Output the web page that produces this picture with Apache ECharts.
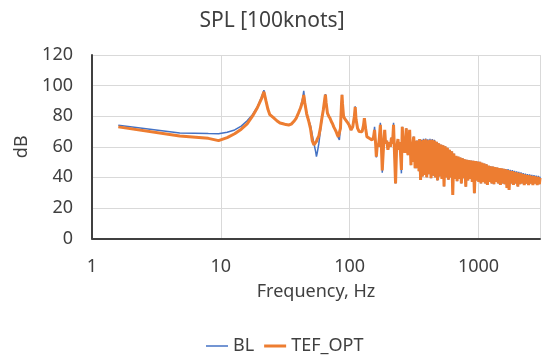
<!DOCTYPE html>
<html><head><meta charset="utf-8">
<script src="https://cdn.jsdelivr.net/npm/echarts@6/dist/echarts.min.js"></script>
<style>html,body{margin:0;padding:0;background:#fff}#c{width:544px;height:355px}</style>
</head><body><div id="c"></div>
<script>
// Frequency (Hz)
const freq = [
  1.6, 4.8, 8.0, 9.6, 11.2, 12.8, 14.4, 16.0, 17.6, 19.2, 20.8, 21.6, 22.4, 23.2, 24.0, 25.6, 27.2, 28.8, 30.4, 32.0,
  33.6, 35.2, 36.8, 38.4, 40.0, 41.6, 43.2, 44.0, 44.8, 46.4, 48.0, 49.6, 51.2, 52.8, 54.4, 55.2, 56.0, 57.6, 59.2, 60.8,
  62.4, 64.0, 64.8, 65.6, 67.2, 68.8, 70.4, 72.0, 73.6, 75.2, 76.8, 78.4, 80.0, 81.6, 83.2, 84.8, 86.4, 87.2, 88.0, 89.6,
  91.2, 92.8, 96.0, 99.2, 102.4, 105.6, 108.8, 110.4, 112.0, 115.2, 118.4, 121.6, 124.8, 128.0, 130.0, 133.0, 136.0, 142.0, 149.0, 153.0,
  156, 159, 161, 164, 167, 170, 173, 176, 179, 183, 187, 190, 194, 198, 203, 207, 211, 215, 219, 223,
  227, 231, 234, 237, 241, 244, 248, 252, 256, 260, 264, 268, 272, 275, 279, 284, 288, 292, 296, 299,
  302, 306, 310, 314, 318, 322, 326, 329, 333, 337, 341, 345, 349, 355,
  360, 367, 374, 381, 389, 396, 404, 412, 420, 428, 437, 445, 454, 463, 472, 481, 490, 500, 510, 520,
  530, 540, 551, 562, 573, 584, 595, 607, 619, 631, 643, 656, 669, 682, 695, 709, 722, 736, 751, 766,
  781, 796, 811, 827, 843, 860, 877, 894, 911, 929, 947, 966, 985, 1004, 1024, 1044, 1064, 1085, 1106, 1128,
  1150, 1172, 1195, 1219, 1242, 1267, 1291, 1317, 1342, 1369, 1395, 1423, 1451, 1479, 1508, 1537, 1567, 1598, 1629, 1661,
  1694, 1727, 1760, 1795, 1830, 1866, 1902, 1939, 1977, 2016, 2055, 2095, 2136, 2178, 2220, 2264, 2308, 2353, 2399, 2446,
  2493, 2542, 2592, 2642, 2694, 2747, 2800, 2855, 2911, 2968, 3000
];
// BL (dB)
const bl = [
  74, 69, 68.6, 68.5, 69.5, 71, 73.5, 77, 81, 86, 93, 97, 90, 84.5, 81, 79, 77, 75.5, 75, 74.5,
  74.2, 74.8, 76.5, 78.6, 82, 86, 92, 96.5, 90, 80, 77.5, 74, 68, 62, 57, 53.5, 56, 62, 70, 78,
  84, 91, 94.5, 89, 82, 80, 78.6, 76.5, 75, 73, 71.5, 70, 68, 66, 64.4, 72, 88, 94, 88, 80,
  78.6, 78, 76, 74, 71, 73, 80, 86.5, 78, 72, 70, 69.5, 69.8, 74, 78.6, 72, 66.6, 65.5, 64.4, 66,
  73, 62, 53, 62, 60, 66, 75.7, 62, 43, 60, 71, 62, 64, 58, 63, 60, 66, 62, 75.7, 55,
  36, 58, 62, 65, 58, 63, 56, 42.6, 73, 60, 64, 56, 66, 72, 58, 54.6, 62, 71, 58, 48,
  60, 50, 62, 66.6, 58, 46, 62, 46, 64, 58, 62, 44, 65, 38.3,
  64.5, 40.5, 65.2, 41.5, 65.4, 40, 64.9, 42, 65.2, 39.4, 65.1, 41, 64.6, 40, 63.2, 38, 62.3, 40.5, 61.5, 39,
  61, 34, 60.3, 40, 59.3, 38.5, 58, 40, 57, 28.5, 55.5, 39, 54, 37.5, 53.5, 39, 53, 36, 52.4, 39.5,
  51.8, 33.9, 51.5, 38, 51.2, 39, 51, 37, 50.8, 29.6, 50.6, 38, 50.3, 37, 50.2, 36, 49.5, 37, 49, 36,
  48.5, 35, 47.6, 37, 47.2, 36, 47, 35.5, 46.7, 37, 46.4, 36, 46.1, 35, 45.8, 36, 45.5, 35.5, 45.4, 33,
  45.5, 31.7, 45, 36, 44.7, 35, 44.3, 36, 43.9, 34, 43.6, 35.5, 43.2, 36, 42.8, 35, 42.5, 36, 42.2, 35,
  41.9, 36, 41.7, 35, 41.4, 36, 41.1, 35, 40.9, 35.5, 40.4
];
// TEF_OPT (dB)
const tefOpt = [
  73, 67, 65.5, 64, 66, 68.5, 71.5, 75, 80, 85.5, 92, 96, 90, 84.5, 81, 79, 77, 75.5, 75, 74.5,
  74.2, 74.8, 76.5, 78.6, 82, 85.5, 90, 93.8, 89, 81.5, 77, 72, 64, 61.2, 62, 63.5, 65, 67, 72, 78.5,
  84, 91, 94, 89, 82, 80, 78.6, 76.5, 75, 73, 71.5, 70, 68, 66.5, 65.5, 72, 88, 94, 88, 80,
  78.6, 78, 76, 74, 71, 73, 80, 86, 78, 72, 70, 69.5, 69.8, 74, 78.6, 72, 66.6, 65.5, 64.4, 66,
  71, 62, 53.5, 62, 60, 66, 74.3, 62, 44.5, 60, 71, 62, 64, 58, 63, 60, 66, 62, 74.3, 55,
  36, 58, 62, 65, 58, 63, 56, 44.8, 73, 60, 64, 56, 66, 72, 58, 54.6, 62, 71, 58, 48,
  60, 50, 62, 66.6, 58, 46, 62, 46, 64, 58, 62, 44, 65, 38.3,
  64, 40.5, 64.5, 41.5, 64.8, 40, 64.2, 42, 64.6, 39.4, 64.5, 41, 64, 40, 63.2, 38, 62.3, 40.5, 61.5, 39,
  61, 34, 60.3, 40, 59.3, 38.5, 58, 40, 57, 28.5, 55.5, 39, 54, 37.5, 53.5, 39, 53, 36, 52.4, 39.5,
  51.8, 33.9, 51.5, 38, 51.2, 39, 51, 37, 50.8, 29.6, 50.6, 38, 50.3, 37, 50.2, 36, 49.5, 37, 49, 36,
  48.5, 35, 47.6, 37, 47.2, 36, 47, 35.5, 46.7, 37, 46.4, 36, 46.1, 35, 45.8, 36, 45.5, 35.5, 45.2, 33,
  44.8, 31.7, 44.3, 36, 44, 35, 43.6, 36, 43.2, 34, 42.9, 35.5, 42.5, 36, 42.1, 35, 41.8, 36, 41.5, 35,
  41.2, 36, 41, 35, 40.7, 36, 40.4, 35, 40.2, 35.5, 39.7
];
const xTickLabels = [1, 10, 100, 1000];
const yTicks = [0, 20, 40, 60, 80, 100, 120];

const FONT = '"Noto Sans", "Open Sans", sans-serif';
const TXT = '#404040';
const chart = echarts.init(document.getElementById('c'), null, {renderer: 'canvas'});
const pairs = (ys) => freq.map((f, i) => [f, ys[i]]);
chart.setOption({
  animation: false,
  backgroundColor: '#ffffff',
  textStyle: {fontFamily: FONT},
  title: {
    text: 'SPL [100knots]', left: 'center', top: 6,
    textStyle: {fontSize: 21, fontWeight: 'normal', color: TXT, fontFamily: FONT}
  },
  grid: {left: 92, right: 4, top: 55, bottom: 116.5, containLabel: false},
  legend: {
    left: 201, top: 332, itemWidth: 22, itemHeight: 3, itemGap: 10,
    itemStyle: {borderWidth: 0},
    textStyle: {fontSize: 18, color: TXT, fontFamily: FONT},
    data: [
      {name: 'BL', icon: 'path://M0,0h22v1.5h-22z', itemStyle: {color: '#4472C4', borderWidth: 0}},
      {name: 'TEF_OPT', icon: 'path://M0,0h22v3h-22z', itemStyle: {color: '#ED7D31', borderWidth: 0}}
    ]
  },
  xAxis: {
    type: 'log', logBase: 10, min: 1, max: 3000,
    name: 'Frequency, Hz', nameLocation: 'middle', nameGap: 44,
    nameTextStyle: {fontSize: 18, color: TXT, fontFamily: FONT},
    axisLine: {show: true, lineStyle: {color: '#404040', width: 2}},
    axisTick: {show: false},
    splitLine: {show: true, lineStyle: {color: '#d9d9d9', width: 1}},
    minorTick: {show: false},
    axisLabel: {
      fontSize: 18, color: TXT, margin: 19, fontFamily: FONT,
      showMaxLabel: false,
      formatter: (v) => { const r = Math.round(v); return xTickLabels.includes(r) ? String(r) : ''; }
    }
  },
  yAxis: {
    type: 'value', min: yTicks[0], max: yTicks[yTicks.length - 1], interval: 20,
    name: 'dB', nameLocation: 'middle', nameGap: 58, nameRotate: 90,
    nameTextStyle: {fontSize: 18, color: TXT, fontFamily: FONT},
    axisLine: {show: true, lineStyle: {color: '#404040', width: 2}},
    axisTick: {show: false},
    splitLine: {show: true, lineStyle: {color: '#d9d9d9', width: 1}},
    axisLabel: {fontSize: 18, color: TXT, margin: 19, fontFamily: FONT}
  },
  series: [
    {
      name: 'BL', type: 'line', data: pairs(bl), showSymbol: false, symbol: 'none',
      lineStyle: {color: '#4472C4', width: 1.5}, itemStyle: {color: '#4472C4'}, z: 2
    },
    {
      name: 'TEF_OPT', type: 'line', data: pairs(tefOpt), showSymbol: false, symbol: 'none',
      lineStyle: {color: '#ED7D31', width: 3}, itemStyle: {color: '#ED7D31'}, z: 3
    }
  ]
});
</script>
</body></html>
